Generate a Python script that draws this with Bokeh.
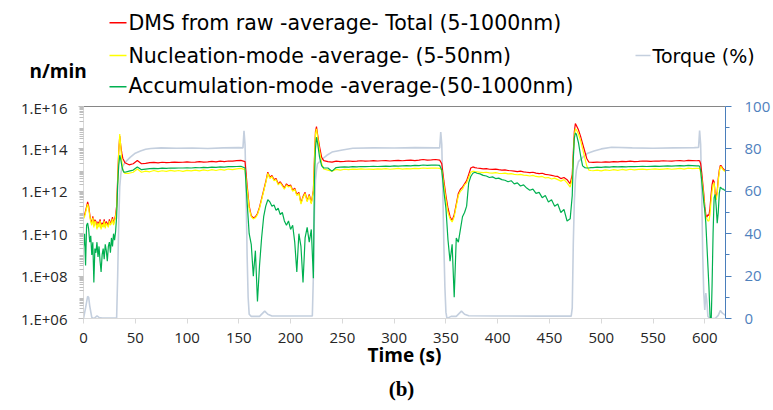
from bokeh.plotting import figure
from bokeh.layouts import column
from bokeh.models import Range1d, LinearAxis, FixedTicker, Label, BoxAnnotation, LinearScale
from bokeh.embed import file_html
from bokeh.resources import INLINE

# ---------------- data ----------------
time_s = [
    0, 1, 2, 3, 4, 5, 6, 7, 8, 9, 10, 11, 12, 13, 14, 15, 16, 17, 18, 19, 20,
    21, 22, 23, 24, 25, 26, 27, 28, 29, 30, 31, 32, 33, 34, 35, 36, 37, 38, 39, 40,
    44, 48, 52, 56, 60, 64, 68, 72, 76, 80, 84, 88, 92, 96, 100, 104, 108, 112,
    116, 120, 124, 128, 132, 136, 140, 144, 148, 152, 156,
    158, 160, 162, 164, 166, 168, 170, 172, 174, 176, 178, 180, 182, 184, 186,
    188, 190, 192, 194, 196, 198, 200, 202, 204, 206, 208, 210, 212, 214, 216,
    218, 220, 222,
    223, 224, 225, 226, 228, 230, 232,
    236, 240, 244, 248, 252, 256, 260, 264, 268, 272, 276, 280, 284, 288, 292,
    296, 300, 304, 308, 312, 316, 320, 324, 328, 332, 336, 340, 344,
    346, 348, 350, 352, 354, 356, 358, 360, 362, 364, 366, 368, 370, 372, 374,
    376, 378, 380,
    383, 386, 389, 392, 395, 398, 401, 404, 407, 410, 413, 416, 419, 422, 425,
    428, 431, 434, 437, 440, 443, 446, 449, 452, 455, 458, 461, 464, 467, 470,
    472, 473, 474, 475, 476, 478, 480, 482, 484, 486, 488, 490,
    492, 496, 500, 504, 508, 512, 516, 520, 524, 528, 532, 536, 540, 544, 548,
    552, 556, 560, 564, 568, 572, 576, 580, 584, 588, 592,
    594, 595, 596, 597, 598, 599, 600, 601, 602, 603, 604, 605, 606, 607, 608,
    609, 610, 611, 612, 613, 614, 615, 616, 617, 618, 619, 620,
]

# log10 of n/min, DMS total (5-1000 nm)
total_log10 = [
    10.78, 10.88, 11.08, 11.28, 11.5, 11.3, 10.93, 10.62, 10.5, 10.82, 10.38, 10.66, 10.58, 10.27, 10.57,
    10.38, 10.68, 10.28, 10.52, 10.38, 10.68, 10.32, 10.58, 10.48, 10.38, 10.68, 10.48, 10.58, 10.78, 10.48,
    10.68, 10.88, 11.3, 12.6, 13.9, 14.6, 14.15, 13.8, 13.55, 13.45, 13.35,
    13.25, 13.3, 13.45, 13.3, 13.32, 13.35, 13.36, 13.34, 13.37, 13.35, 13.36, 13.38, 13.36, 13.37, 13.39,
    13.37, 13.38, 13.4, 13.38, 13.39, 13.41, 13.39, 13.42, 13.4, 13.43, 13.42, 13.45, 13.46, 13.4,
    12.3, 11.3, 10.85, 10.75, 10.8, 10.95, 11.25, 11.65, 12.05, 12.45, 12.9, 12.65, 12.75, 12.55, 12.6,
    12.35, 12.45, 12.3, 12.15, 12.35, 12.25, 12.3, 12.05, 12.15, 11.85, 11.95, 11.45, 11.75, 11.95, 11.55,
    11.85, 11.45, 12.05,
    13.5, 14.8, 15.05, 14.7, 14.1, 13.6, 13.45,
    13.4, 13.38, 13.42, 13.4, 13.41, 13.43, 13.41, 13.42, 13.44, 13.42, 13.43, 13.45, 13.43, 13.44, 13.45,
    13.43, 13.45, 13.46, 13.44, 13.46, 13.47, 13.45, 13.47, 13.5, 13.47, 13.48, 13.5, 13.47,
    13.3, 12.5, 11.8, 11.2, 10.8, 10.62, 10.9, 11.4, 11.9, 12.1, 12.2, 12.35, 12.5, 12.8, 13.1,
    13.15, 13.12, 13.1,
    13.08, 13.06, 13.07, 13.04, 13.03, 13.05, 13.02, 13.0, 13.01, 12.98, 12.97, 12.95, 12.93, 12.95, 12.92,
    12.9, 12.88, 12.9, 12.86, 12.83, 12.85, 12.8, 12.78, 12.75, 12.72, 12.7, 12.6, 12.65, 12.55, 12.35,
    12.8, 13.8, 14.8, 15.2, 15.1, 14.9, 14.6, 14.25, 13.9, 13.55, 13.38, 13.37,
    13.36, 13.38, 13.37, 13.39, 13.38, 13.4, 13.39, 13.41, 13.4, 13.42, 13.4, 13.41, 13.43, 13.42, 13.41,
    13.43, 13.42, 13.44, 13.43, 13.42, 13.44, 13.45, 13.43, 13.46, 13.45, 13.44,
    13.45, 13.44, 13.3, 12.9, 12.4, 11.9, 11.3, 10.9, 10.78, 10.9, 10.85, 11.2, 11.8, 12.3, 12.55,
    12.45, 11.9, 11.72, 12.0, 12.6, 13.0, 13.22, 13.2, 13.1, 13.05, 13.0, 12.98,
]

# log10 of n/min, nucleation mode (5-50 nm)
nucleation_log10 = [
    10.7, 10.8, 11.0, 11.2, 11.4, 11.2, 10.85, 10.55, 10.4, 10.75, 10.3, 10.6, 10.5, 10.2, 10.5,
    10.3, 10.6, 10.2, 10.45, 10.3, 10.6, 10.25, 10.5, 10.4, 10.3, 10.6, 10.4, 10.5, 10.7, 10.4,
    10.6, 10.8, 11.15, 12.4, 13.8, 14.7, 14.1, 13.4, 13.0, 12.9, 12.85,
    12.85, 12.9, 13.05, 12.9, 12.95, 12.92, 12.98, 12.93, 12.97, 12.94, 12.99, 12.95, 12.98, 12.94, 12.99,
    12.96, 13.0, 12.96, 13.01, 12.97, 13.02, 12.98, 13.03, 13.0, 13.05, 13.02, 13.06, 13.08, 13.02,
    12.1, 11.2, 10.8, 10.7, 10.75, 10.9, 11.2, 11.6, 12.0, 12.4, 12.85, 12.6, 12.7, 12.5, 12.55,
    12.3, 12.4, 12.25, 12.1, 12.3, 12.2, 12.25, 12.0, 12.1, 11.8, 11.9, 11.4, 11.7, 11.9, 11.5,
    11.8, 11.4, 12.0,
    13.4, 14.7, 14.95, 14.6, 13.9, 13.3, 13.05,
    13.0, 12.95, 13.03, 13.0, 13.04, 13.02, 13.05, 13.03, 13.06, 13.04, 13.05, 13.03, 13.06, 13.05, 13.07,
    13.04, 13.06, 13.08, 13.05, 13.07, 13.06, 13.08, 13.07, 13.1, 13.08, 13.09, 13.1, 13.08,
    13.0, 12.3, 11.6, 11.0, 10.7, 10.55, 10.8, 11.3, 11.8, 12.0, 12.1, 12.3, 12.4, 12.65, 12.9,
    12.95, 12.93, 12.92,
    12.9, 12.88, 12.9, 12.87, 12.86, 12.88, 12.85, 12.84, 12.86, 12.82, 12.83, 12.8, 12.78, 12.8, 12.76,
    12.75, 12.72, 12.75, 12.7, 12.68, 12.7, 12.63, 12.65, 12.58, 12.62, 12.55, 12.48, 12.55, 12.4, 12.2,
    12.6, 13.6, 14.6, 14.95, 14.9, 14.7, 14.4, 14.0, 13.6, 13.2, 13.0, 12.98,
    12.97, 13.0, 12.96, 13.01, 12.98, 13.02, 12.99, 13.03, 13.0, 13.04, 13.01, 13.03, 13.05, 13.02, 13.04,
    13.06, 13.03, 13.05, 13.07, 13.04, 13.06, 13.08, 13.05, 13.09, 13.07, 13.08,
    13.08, 13.07, 12.9, 12.6, 12.2, 11.7, 11.1, 10.8, 10.7, 10.6, 10.6, 10.9, 11.5, 12.0, 12.3,
    12.4, 11.8, 11.6, 11.9, 12.5, 12.9, 13.15, 13.15, 13.05, 13.0, 12.95, 12.95,
]

# log10 of n/min, accumulation mode (50-1000 nm)
accumulation_log10 = [
    9.4, 10.0, 8.5, 10.4, 10.5, 10.2, 9.6, 9.9, 9.0, 9.6, 7.7, 9.3, 9.1, 9.6, 8.9,
    9.4, 8.7, 8.2, 9.0, 9.3, 8.8, 9.5, 9.2, 8.7, 9.4, 9.6, 9.1, 9.8, 9.4, 10.0,
    9.7, 10.1, 10.8, 12.3, 13.2, 13.7, 13.5, 13.2, 13.0, 12.9, 12.9,
    12.95, 13.0, 13.15, 13.02, 13.05, 13.07, 13.08, 13.07, 13.09, 13.08, 13.1, 13.09, 13.1, 13.1, 13.11,
    13.1, 13.12, 13.11, 13.13, 13.12, 13.14, 13.13, 13.15, 13.14, 13.16, 13.16, 13.17, 13.18, 13.1,
    11.5, 10.0, 9.5, 8.0, 9.2, 6.8, 8.5, 9.8, 10.8, 11.3, 11.6, 11.5, 11.3, 11.35, 11.1,
    11.2, 10.9, 11.0, 10.6, 10.4, 10.6, 10.2, 10.4, 9.6, 8.2, 10.0, 9.4, 7.7, 9.8, 10.3,
    9.6, 10.2, 7.9,
    12.5, 14.0, 14.55, 14.3, 13.6, 13.2, 13.1,
    13.1, 12.95, 13.12, 13.14, 13.15, 13.14, 13.16, 13.15, 13.17, 13.16, 13.17, 13.18, 13.17, 13.18, 13.19,
    13.18, 13.2, 13.19, 13.2, 13.21, 13.2, 13.22, 13.21, 13.24, 13.22, 13.23, 13.24, 13.22,
    13.0, 12.0, 11.2, 9.7, 8.7, 9.5, 7.0, 9.8, 9.6, 10.2, 10.8, 11.0, 11.3, 12.4, 12.7,
    12.85, 12.9, 12.85,
    12.82, 12.75, 12.72, 12.65, 12.68, 12.6, 12.62, 12.55, 12.52, 12.45, 12.5, 12.35, 12.4, 12.25, 12.3,
    12.15, 12.05, 12.1, 11.9, 11.95, 11.7, 11.8, 11.5, 11.6, 11.3, 11.4, 11.0, 11.15, 10.6, 10.7,
    11.8, 13.5, 14.5, 14.75, 14.7, 14.3, 13.7, 13.2, 13.12, 13.1, 13.1, 13.12,
    13.12, 13.14, 13.13, 13.15, 13.14, 13.16, 13.15, 13.16, 13.15, 13.17, 13.16, 13.17, 13.18, 13.17, 13.18,
    13.19, 13.18, 13.19, 13.2, 13.19, 13.2, 13.21, 13.2, 13.22, 13.21, 13.2,
    13.2, 13.18, 13.0, 12.5, 12.0, 11.5, 11.1, 10.5, 9.5, 8.5, 7.5, 6.2, 5.5, 7.5, 10.0,
    11.7, 11.85, 11.3, 10.5, 11.0, 11.9, 12.2, 12.15, 12.1, 12.1, 12.05, 12.05,
]

# engine torque (%) on the secondary axis
torque_time_s = [
    0, 2, 4, 5, 6, 8, 10, 12, 13, 15, 18, 25, 32, 33, 34, 35, 36, 37, 40, 45,
    50, 55, 60, 65, 75, 90, 105, 120, 135, 150, 154, 155, 156, 157, 158, 159, 160, 162, 170, 175,
    178, 182, 200, 221, 222, 223, 224, 225, 226, 230, 235, 240, 250, 260, 280, 300, 320, 340, 344, 345,
    346, 347, 348, 349, 350, 351, 355, 360, 365, 368, 372, 400, 440, 471, 472, 473, 474, 475, 476, 478,
    482, 487, 493, 500, 510, 530, 550, 570, 590, 594, 595, 596, 597, 598, 599, 600, 601, 602, 603, 605,
    610, 613, 615, 617, 620,
]
torque_pct = [
    0, 5, 10.4, 10, 6, 0.5, 0, 0.8, 1.2, 0.5, 0.2, 0.2, 0.2, 20, 45, 62, 68, 71, 73.5, 76,
    78, 79, 79.8, 80.2, 80.5, 80.3, 80.4, 80.2, 80.5, 80.6, 80.5, 88.5, 82, 60, 30, 10, 2, 1, 1, 3.5,
    2, 1.2, 1.2, 1.2, 20, 50, 65, 70, 73, 75, 77, 78.5, 79.5, 80.3, 80.5, 80.4, 80.6, 80.5, 80.5, 88,
    82, 60, 35, 15, 3, 0, 1, 1, 3.5, 2, 1.3, 1.2, 1.1, 1.1, 5, 35, 55, 65, 70, 74,
    76, 78, 79, 80, 80.8, 80.5, 80.3, 80.5, 80.6, 80.7, 88.7, 82, 60, 30, 12, 4, 12, 8, 1, 0,
    0, 1.5, 3.8, 2.5, 1.5,
]

x_ticks = [0, 50, 100, 150, 200, 250, 300, 350, 400, 450, 500, 550, 600]
y_ticks = [1e6, 1e8, 1e10, 1e12, 1e14, 1e16]
y_tick_labels = ["1.E+06", "1.E+08", "1.E+10", "1.E+12", "1.E+14", "1.E+16"]
torque_ticks = [0, 20, 40, 60, 80, 100]
torque_minor = [10, 30, 50, 70, 90]

series_names = [
    "DMS from raw -average- Total (5-1000nm)",
    "Nucleation-mode -average- (5-50nm)",
    "Accumulation-mode -average-(50-1000nm)",
]
torque_name = "Torque (%)"

for name, arr in (("total", total_log10), ("nuc", nucleation_log10), ("acc", accumulation_log10)):
    if len(arr) != len(time_s):
        raise ValueError(f"{name}: {len(arr)} vs {len(time_s)}")
if len(torque_pct) != len(torque_time_s):
    raise ValueError(f"torque: {len(torque_pct)} vs {len(torque_time_s)}")

total = [10 ** v for v in total_log10]
nucleation = [10 ** v for v in nucleation_log10]
accumulation = [10 ** v for v in accumulation_log10]

COLORS = ["#FF0000", "#FFFF00", "#00B050"]
TORQUE_COLOR = "#C4CFDE"
FONT = "Open Sans"
W = 773
TOP_H = 97            # header strip (legend + unit label)
FRAME_TOP, FRAME_BOTTOM = 106, 318
LEFT_B, RIGHT_B = 83, 45
MAIN_BOTTOM_B = 54
MAIN_H = (FRAME_TOP - TOP_H) + (FRAME_BOTTOM - FRAME_TOP) + MAIN_BOTTOM_B
BOT_H = 410 - TOP_H - MAIN_H


def no_align(fig):
    try:
        fig.frame_align = False
    except Exception:
        pass


def blank_figure(h):
    f = figure(width=W, height=h, output_backend="svg", toolbar_location=None,
               x_axis_type=None, y_axis_type=None,
               x_range=Range1d(0, 1), y_range=Range1d(0, 1),
               min_border=0, min_border_left=0, min_border_right=0,
               min_border_top=0, min_border_bottom=0)
    f.outline_line_color = None
    f.grid.visible = False
    f.background_fill_color = "white"
    f.border_fill_color = "white"
    no_align(f)
    return f


def add_text(fig, txt, px, py_mid, size, bold=False, align="left", font=FONT, color="#000000"):
    # py_mid: vertical middle of the text line, canvas pixels from the top
    fig.add_layout(Label(x=px, y=py_mid, x_units="canvas", y_units="canvas", text=txt,
                         text_font=font, text_font_size=size,
                         text_font_style="bold" if bold else "normal",
                         text_align=align, text_baseline="middle", text_color=color))


# ---------------- header: legend + "n/min" ----------------
head = blank_figure(TOP_H)


def add_key(px0, px1, py, color):
    head.add_layout(BoxAnnotation(left=px0, right=px1, top=py - 0.7, bottom=py + 0.7,
                                  left_units="canvas", right_units="canvas",
                                  bottom_units="canvas", top_units="canvas",
                                  fill_color=color, fill_alpha=1.0, line_color=None))


text_mid = [22.0, 55.3, 85.3]
key_y = [22.3, 55.0, 86.3]
for name, col, tm, ky in zip(series_names, COLORS, text_mid, key_y):
    add_key(109, 126, ky, col)
    add_text(head, name, 128, tm, "20.5px", font="DejaVu Sans")
add_key(635, 650, 55.0, TORQUE_COLOR)
add_text(head, torque_name, 652, 55.5, "19px", font="DejaVu Sans")
add_text(head, "n/min", 29, 70.5, "19px", bold=True)

# ---------------- main plot ----------------
p = figure(width=W, height=MAIN_H, output_backend="svg", toolbar_location=None,
           x_range=Range1d(0, 620), y_range=Range1d(1e6, 1e16), y_axis_type="log",
           min_border_left=LEFT_B, min_border_right=RIGHT_B,
           min_border_top=FRAME_TOP - TOP_H, min_border_bottom=MAIN_BOTTOM_B)
p.outline_line_color = None
p.grid.visible = False
p.background_fill_color = "white"
p.border_fill_color = "white"
no_align(p)

p.extra_y_ranges = {"torque": Range1d(0, 100)}
p.extra_y_scales = {"torque": LinearScale()}

p.line(torque_time_s, torque_pct, y_range_name="torque", line_color=TORQUE_COLOR, line_width=1.6)
p.line(time_s, total, line_color=COLORS[0], line_width=1.2)
p.line(time_s, nucleation, line_color=COLORS[1], line_width=1.2)
p.line(time_s, accumulation, line_color=COLORS[2], line_width=1.2)

xa = p.xaxis[0]
xa.ticker = FixedTicker(ticks=x_ticks)
xa.axis_line_color = "#D9D9D9"
xa.major_tick_line_color = "#D9D9D9"
xa.major_tick_out = 5
xa.major_tick_in = 0
xa.minor_tick_line_color = None
xa.major_label_text_font = FONT
xa.major_label_text_font_size = "15px"
xa.major_label_text_color = "#262626"
xa.major_label_standoff = 9
xa.axis_label = "Time (s)"
xa.axis_label_text_font = FONT
xa.axis_label_text_font_size = "19px"
xa.axis_label_text_font_style = "bold"
xa.axis_label_text_color = "#000000"
xa.axis_label_standoff = -4

ya = p.yaxis[0]
minor = [k * 10 ** e for e in range(6, 16) for k in range(2, 10)]
ya.ticker = FixedTicker(ticks=y_ticks, minor_ticks=minor)
ya.major_label_overrides = dict(zip(y_ticks, y_tick_labels))
ya.axis_line_color = "#D9D9D9"
ya.major_tick_line_color = "#BFBFBF"
ya.minor_tick_line_color = "#BFBFBF"
ya.major_tick_out = 5
ya.major_tick_in = 0
ya.minor_tick_out = 4
ya.minor_tick_in = 0
ya.major_label_text_font = FONT
ya.major_label_text_font_size = "15px"
ya.major_label_text_color = "#262626"
ya.major_label_standoff = 11

ra = LinearAxis(y_range_name="torque",
                ticker=FixedTicker(ticks=torque_ticks, minor_ticks=torque_minor))
ra.axis_line_color = "#4A7EBB"
ra.major_tick_line_color = "#4A7EBB"
ra.minor_tick_line_color = "#4A7EBB"
ra.major_tick_out = 6
ra.major_tick_in = 0
ra.minor_tick_out = 4
ra.minor_tick_in = 0
ra.major_label_text_font = FONT
ra.major_label_text_font_size = "15px"
ra.major_label_text_color = "#4F81BD"
ra.major_label_standoff = 13
p.add_layout(ra, "right")

top_axis = LinearAxis(ticker=FixedTicker(ticks=[]))
top_axis.axis_line_color = "#868686"
top_axis.major_tick_line_color = None
top_axis.minor_tick_line_color = None
top_axis.major_tick_out = 0
top_axis.minor_tick_out = 0
top_axis.major_label_standoff = 0
top_axis.major_label_text_font_size = "0px"
p.add_layout(top_axis, "above")

# ---------------- footer: caption ----------------
foot = blank_figure(BOT_H)
add_text(foot, "(b)", 401, 388 - TOP_H - MAIN_H, "21px", bold=True, align="center",
         font="Liberation Serif")

layout = column(head, p, foot, spacing=0)
open("out.html", "w").write(file_html(layout, INLINE))
